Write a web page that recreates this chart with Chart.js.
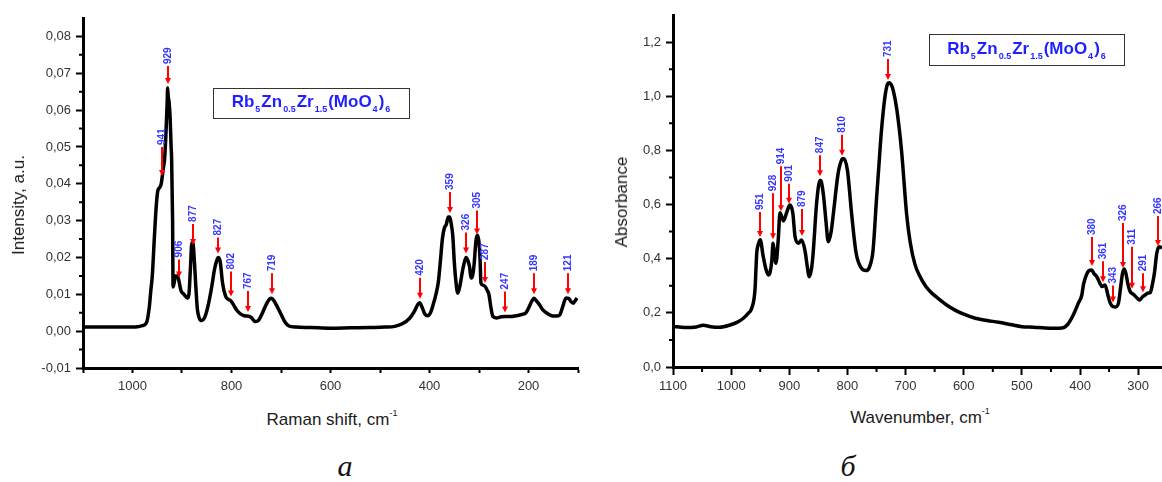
<!DOCTYPE html>
<html>
<head>
<meta charset="utf-8">
<script src="https://cdn.jsdelivr.net/npm/chart.js@4.4.0/dist/chart.umd.min.js"></script>
<style>
  body { margin: 0; width: 1162px; height: 482px; background: #fff; position: relative; overflow: hidden; font-family: Arial, "Liberation Sans", sans-serif; }
  canvas { position: absolute; top: 0; }
  .ytitle { position: absolute; transform: translate(-50%, -50%) rotate(-90deg); font-size: 17px; white-space: nowrap; color: #1a1a1a; }
  .xtitle { position: absolute; transform: translate(-50%, -50%); font-size: 17px; white-space: nowrap; color: #1a1a1a; }
  .xtitle sup { font-size: 9px; vertical-align: 9px; line-height: 0; }
  .formula { position: absolute; box-sizing: border-box; border: 1.5px solid #333; color: #1f1fff; font-weight: bold; font-size: 17px; text-align: center; white-space: nowrap; }
  .formula sub { font-size: 9px; vertical-align: -5px; line-height: 0; margin: 0 1px; }
  .caption { position: absolute; transform: translate(-50%, -50%); font-family: "Liberation Serif", "Times New Roman", serif; font-style: italic; font-size: 30px; color: #111; }
</style>
</head>
<body>
<canvas id="raman" width="590" height="400" style="left:0"></canvas>
<canvas id="ir" width="572" height="400" style="left:590px"></canvas>

<div class="ytitle" style="left:19px; top:205px">Intensity, a.u.</div>
<div class="xtitle" style="left:332px; top:420px">Raman shift, cm<sup>-1</sup></div>
<div class="formula" style="left:213px; top:88px; width:197px; height:31px; line-height:26px">Rb<sub>5</sub>Zn<sub>0.5</sub>Zr<sub>1.5</sub>(MoO<sub>4</sub>)<sub>6</sub></div>
<div class="caption" style="left:345px; top:466px">а</div>

<div class="ytitle" style="left:622px; top:202px">Absorbance</div>
<div class="xtitle" style="left:920px; top:418px">Wavenumber, cm<sup>-1</sup></div>
<div class="formula" style="left:929px; top:34px; width:196px; height:32px; line-height:27px">Rb<sub>5</sub>Zn<sub>0.5</sub>Zr<sub>1.5</sub>(MoO<sub>4</sub>)<sub>6</sub></div>
<div class="caption" style="left:848px; top:466px">б</div>

<script>
// Raman spectrum
const ramanShift = [1100, 1050, 1000, 990, 980, 972, 966, 963, 960, 956, 952, 949, 945, 942, 938, 935, 932, 930, 929, 928, 926, 924, 922, 921, 919, 918,
  916, 913, 909, 906, 902, 896, 889, 886, 883, 880, 878, 875, 872, 869, 865, 860, 854, 848, 840, 834, 829, 827, 823, 818, 812, 806, 802, 797,
  790, 782, 774, 767, 760, 752, 745, 738, 730, 723, 719, 714, 707, 700, 692, 684, 670, 640, 600, 560, 520, 490, 470, 455, 440, 430, 424, 420,
  415, 410, 404, 398, 393, 387, 382, 378, 374, 370, 366, 362, 359, 356, 353, 350, 347, 343, 339, 333, 329, 326, 322, 319, 316, 313, 310, 306,
  303, 300, 298, 296, 292, 287, 283, 280, 276, 272, 265, 255, 245, 235, 225, 211, 205, 198, 193, 189, 185, 178, 171, 164, 157, 151, 144, 137,
  131, 127, 124, 119, 114, 110, 106, 102];
const ramanIntensity = [0.0011, 0.0011, 0.0011, 0.0012, 0.0015, 0.0022, 0.0066, 0.011, 0.015, 0.025, 0.034, 0.038, 0.039, 0.040, 0.044, 0.047, 0.055, 0.062, 0.066, 0.064, 0.062, 0.058, 0.050, 0.047, 0.030, 0.012,
  0.013, 0.015, 0.015, 0.0135, 0.011, 0.010, 0.009, 0.010, 0.017, 0.024, 0.024, 0.019, 0.012, 0.006, 0.0035, 0.0029, 0.0038, 0.0065, 0.012, 0.017, 0.0195, 0.020, 0.019, 0.013, 0.0095, 0.0086, 0.0083, 0.0074,
  0.0058, 0.0047, 0.0042, 0.0041, 0.0037, 0.0026, 0.0030, 0.0048, 0.0072, 0.0087, 0.0089, 0.0082, 0.0065, 0.0046, 0.0025, 0.0014, 0.0011, 0.0010, 0.0008, 0.0009, 0.0010, 0.0011, 0.0013, 0.0020, 0.0035, 0.0055, 0.0072, 0.0077,
  0.0065, 0.0048, 0.0042, 0.0050, 0.0070, 0.0100, 0.0135, 0.019, 0.025, 0.028, 0.029, 0.031, 0.031, 0.029, 0.026, 0.019, 0.014, 0.0103, 0.012, 0.0166, 0.019, 0.020, 0.019, 0.0174, 0.0144, 0.015, 0.018, 0.0247,
  0.026, 0.024, 0.020, 0.013, 0.0125, 0.012, 0.011, 0.0100, 0.0065, 0.0040, 0.0036, 0.0039, 0.0040, 0.0040, 0.0042, 0.0046, 0.0050, 0.0068, 0.0082, 0.0089, 0.0084, 0.0072, 0.0058, 0.0050, 0.0044, 0.0041, 0.0041, 0.0044,
  0.0066, 0.0083, 0.0090, 0.0089, 0.0080, 0.0076, 0.0082, 0.0090];
const ramanPeaks = [941, 929, 906, 877, 827, 802, 767, 719, 420, 359, 326, 305, 287, 247, 189, 121];
const ramanXTicks = [1100, 1000, 900, 800, 700, 600, 500, 400, 300, 200, 100];
const ramanYTicks = [-0.01, 0, 0.01, 0.02, 0.03, 0.04, 0.05, 0.06, 0.07, 0.08];
const ramanYMinor = [-0.005, 0.005, 0.015, 0.025, 0.035, 0.045, 0.055, 0.065, 0.075];

// IR absorption spectrum
const irWavenumber = [1100, 1080, 1060, 1048, 1035, 1020, 1002, 990, 979, 970, 965, 959, 956, 953, 950, 945, 940, 936, 933, 930, 928, 926, 923, 919,
  916, 913, 910, 904, 899, 894, 890, 884, 879, 873, 869, 866, 862, 859, 853, 847, 845, 841, 837, 833, 828, 824, 816, 810, 807, 800, 793, 785,
  776, 768, 762, 756, 750, 746, 742, 736, 731, 728, 724, 721, 715, 707, 698, 692, 684, 675, 666, 656, 645, 630, 615, 600, 580, 560, 540, 520,
  500, 480, 460, 445, 431, 422, 411, 403, 397, 394, 389, 385, 380, 376, 371, 366, 362, 357, 352, 348, 343, 339, 334, 330, 327, 324, 321, 318,
  314, 308, 302, 297, 293, 288, 283, 279, 276, 272, 268, 264, 259];
const irAbsorbance = [0.150, 0.146, 0.148, 0.154, 0.149, 0.147, 0.155, 0.165, 0.180, 0.200, 0.215, 0.285, 0.42, 0.455, 0.470, 0.41, 0.36, 0.34, 0.35, 0.395, 0.457, 0.43, 0.383, 0.47,
  0.570, 0.555, 0.54, 0.574, 0.598, 0.57, 0.48, 0.457, 0.469, 0.43, 0.37, 0.333, 0.36, 0.42, 0.605, 0.69, 0.685, 0.63, 0.54, 0.463, 0.50, 0.57, 0.715, 0.765, 0.770, 0.727, 0.57, 0.42,
  0.365, 0.356, 0.37, 0.43, 0.62, 0.74, 0.86, 0.99, 1.045, 1.05, 1.04, 1.02, 0.95, 0.80, 0.56, 0.46, 0.38, 0.333, 0.300, 0.275, 0.255, 0.230, 0.210, 0.195, 0.180, 0.172, 0.165, 0.157,
  0.149, 0.147, 0.144, 0.143, 0.144, 0.155, 0.195, 0.235, 0.265, 0.305, 0.34, 0.355, 0.358, 0.345, 0.333, 0.31, 0.297, 0.303, 0.265, 0.236, 0.223, 0.222, 0.235, 0.297, 0.345, 0.362, 0.345, 0.31,
  0.28, 0.268, 0.255, 0.247, 0.258, 0.266, 0.273, 0.275, 0.30, 0.347, 0.42, 0.444, 0.44];
const irPeaks = [951, 928, 914, 901, 879, 847, 810, 731, 380, 361, 343, 326, 311, 291, 266];
const irXTicks = [1100, 1000, 900, 800, 700, 600, 500, 400, 300];
const irXMinor = [1050, 950, 850, 750, 650, 550, 450, 350];
const irYTicks = [0, 0.2, 0.4, 0.6, 0.8, 1.0, 1.2];
const irYMinor = [0.1, 0.3, 0.5, 0.7, 0.9, 1.1];

// arrow shaft lengths in px where they differ from the default
const ramanArrowLen = {941: 29, 929: 18, 906: 18, 827: 16, 802: 25, 305: 24};
const irArrowLen = {951: 25, 928: 46, 914: 45, 901: 20, 879: 27, 380: 29, 343: 17, 326: 45, 311: 42, 291: 19, 266: 30};

function valueAt(xs, ys, x) {
  for (let i = 0; i < xs.length - 1; i++) {
    const a = xs[i], b = xs[i + 1];
    if ((x <= a && x >= b) || (x >= a && x <= b)) {
      const t = (x - a) / (b - a);
      return ys[i] + t * (ys[i + 1] - ys[i]);
    }
  }
  return ys[ys.length - 1];
}

// short unlabeled ticks between the major ones
const minorTicks = {
  id: 'minorTicks',
  afterDraw(chart, args, opts) {
    const {ctx, chartArea} = chart;
    ctx.save();
    ctx.strokeStyle = '#000';
    ctx.lineWidth = 2;
    ctx.beginPath();
    (opts.x || []).forEach(v => {
      const px = chart.scales.x.getPixelForValue(v);
      ctx.moveTo(px, chartArea.bottom);
      ctx.lineTo(px, chartArea.bottom + opts.xLength);
    });
    (opts.y || []).forEach(v => {
      const py = chart.scales.y.getPixelForValue(v);
      ctx.moveTo(chartArea.left, py);
      ctx.lineTo(chartArea.left - opts.yLength, py);
    });
    ctx.stroke();
    ctx.restore();
  }
};

// red arrows with the band position written above
const peakMarks = {
  id: 'peakMarks',
  afterDatasetsDraw(chart, args, opts) {
    const ctx = chart.ctx;
    const xScale = chart.scales.x, yScale = chart.scales.y;
    ctx.save();
    ctx.font = opts.font;
    ctx.textAlign = 'left';
    ctx.textBaseline = 'middle';
    opts.peaks.forEach(p => {
      const px = Math.round(xScale.getPixelForValue(p));
      const tip = yScale.getPixelForValue(valueAt(opts.xs, opts.ys, p)) - 4;
      const top = tip - (opts.lengths[p] || opts.length);
      ctx.strokeStyle = '#ff0000';
      ctx.lineWidth = 2;
      ctx.beginPath();
      ctx.moveTo(px, top);
      ctx.lineTo(px, tip - 4);
      ctx.stroke();
      ctx.fillStyle = '#ff0000';
      ctx.beginPath();
      ctx.moveTo(px - 3, tip - 6);
      ctx.lineTo(px + 3, tip - 6);
      ctx.lineTo(px, tip);
      ctx.closePath();
      ctx.fill();
      ctx.fillStyle = opts.color;
      ctx.save();
      ctx.translate(px, top - 2);
      ctx.rotate(-Math.PI / 2);
      ctx.fillText(String(p), 0, 0);
      ctx.restore();
    });
    ctx.restore();
  }
};

function makeSpectrum(id, cfg) {
  return new Chart(document.getElementById(id), {
    type: 'line',
    data: {
      datasets: [{
        data: cfg.xs.map((x, i) => ({x: x, y: cfg.ys[i]})),
        borderColor: '#000',
        borderWidth: 3.5,
        borderJoinStyle: 'round',
        pointRadius: 0,
        cubicInterpolationMode: 'monotone',
        fill: false
      }]
    },
    options: {
      responsive: false,
      animation: false,
      events: [],
      layout: { padding: cfg.padding },
      plugins: {
        legend: { display: false },
        tooltip: { enabled: false },
        minorTicks: { x: cfg.xMinor, y: cfg.yMinor, xLength: 5, yLength: 4 },
        peakMarks: { peaks: cfg.peaks, xs: cfg.xs, ys: cfg.ys, lengths: cfg.arrowLen, length: 21,
          font: 'bold 10px Arial', color: '#3535ff' }
      },
      scales: {
        x: {
          type: 'linear',
          reverse: true,
          min: cfg.xMin,
          max: cfg.xMax,
          afterBuildTicks: s => { s.ticks = cfg.xTicks.map(v => ({value: v})); },
          afterFit: s => { s.height = cfg.xHeight; },
          grid: { drawOnChartArea: false, tickLength: cfg.xTickLen, tickWidth: 2, tickColor: '#000' },
          border: { display: true, width: 3, color: '#000' },
          ticks: {
            color: '#333', font: { family: 'Arial', size: 13 }, padding: cfg.xPad,
            maxRotation: 0, autoSkip: false,
            callback: v => (cfg.xLabel(v) ? String(v) : '')
          }
        },
        y: {
          type: 'linear',
          min: cfg.yMin,
          max: cfg.yMax,
          afterBuildTicks: s => { s.ticks = cfg.yTicks.map(v => ({value: v})); },
          afterFit: s => { s.width = 83; },
          grid: { drawOnChartArea: false, tickLength: 7, tickWidth: 2, tickColor: '#000' },
          border: { display: true, width: 3, color: '#000' },
          ticks: {
            color: '#333', font: { family: 'Arial', size: 13 }, padding: 5,
            callback: v => v.toFixed(cfg.yDigits).replace('.', ',')
          }
        }
      }
    },
    plugins: [minorTicks, peakMarks]
  });
}

makeSpectrum('raman', {
  xs: ramanShift, ys: ramanIntensity, peaks: ramanPeaks, arrowLen: ramanArrowLen,
  xMin: 100, xMax: 1100, xTicks: ramanXTicks, xMinor: [], xLabel: v => v % 200 === 0,
  yMin: -0.01, yMax: 0.085, yTicks: ramanYTicks, yMinor: ramanYMinor, yDigits: 2,
  padding: { left: 0, top: 18, right: 12, bottom: 0 }, xHeight: 32, xTickLen: 5, xPad: 6
});

makeSpectrum('ir', {
  xs: irWavenumber, ys: irAbsorbance, peaks: irPeaks, arrowLen: irArrowLen,
  xMin: 259, xMax: 1100, xTicks: irXTicks, xMinor: irXMinor, xLabel: () => true,
  yMin: 0, yMax: 1.3, yTicks: irYTicks, yMinor: irYMinor, yDigits: 1,
  padding: { left: 0, top: 15, right: 0, bottom: 0 }, xHeight: 33, xTickLen: 8, xPad: 4
});
</script>
</body>
</html>
